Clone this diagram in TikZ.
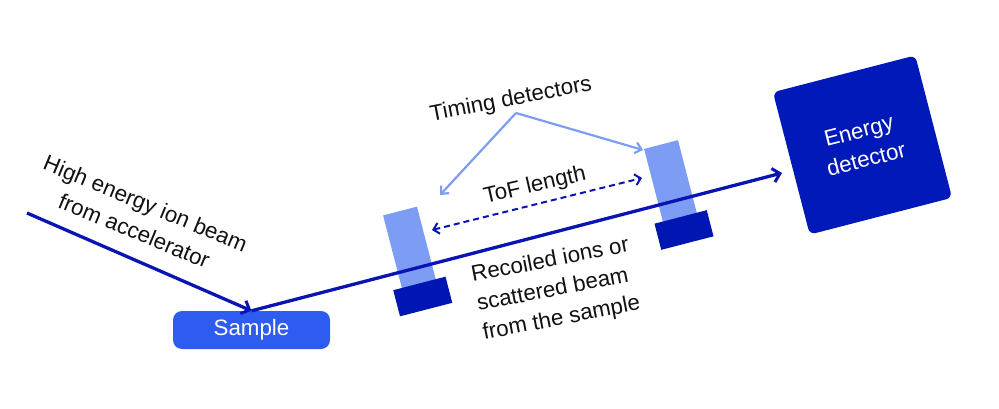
\documentclass[tikz,border=0pt]{standalone}
\usepackage{fontspec}
\setmainfont{Liberation Sans}
\usetikzlibrary{arrows.meta}
\definecolor{beamblue}{HTML}{0A14B4}
\definecolor{darkbox}{HTML}{0016B2}
\definecolor{edetblue}{HTML}{0019B8}
\definecolor{sampleblue}{HTML}{2E5CF0}
\definecolor{lightblue}{HTML}{7D9DF5}
\definecolor{textgray}{HTML}{111111}
\tikzset{
  beam/.style={draw=beamblue, line width=3.3pt, -{Straight Barb[length=7pt,width=14pt,line width=3pt]}},
  tofarrow/.style={draw=beamblue, line width=2pt, dash pattern=on 6pt off 4pt, {Straight Barb[length=5.5pt,width=11pt]}-{Straight Barb[length=5.5pt,width=11pt]}},
  pointer/.style={draw=lightblue, line width=2.2pt, -{Straight Barb[length=6pt,width=11pt]}},
  samplebox/.style={fill=sampleblue, text=white, rounded corners=9pt, minimum width=157pt, minimum height=38pt, inner sep=0pt},
  edetbox/.style={fill=edetblue, text=white, rounded corners=6pt, minimum size=147pt, align=center, inner sep=0pt},
  tlight/.style={fill=lightblue, minimum width=35pt, minimum height=90pt, inner sep=0pt},
  tdark/.style={fill=darkbox, minimum width=54pt, minimum height=27pt, inner sep=0pt},
  lbl/.style={text=textgray, inner sep=0pt}
}
\begin{document}
\begin{tikzpicture}[x=1pt,y=-1pt, font=\fontsize{22.3}{29.5}\selectfont]
\useasboundingbox (0,0) rectangle (999,409);
% detectors
\node[tlight, rotate=14.5] (t1) at (411.3,254.6) {};
\node[tlight, rotate=14.5] (t2) at (672.3,188.1) {};
\node[tdark, rotate=14.5] (d1) at (422.75,296.5) {};
\node[tdark, rotate=14.5] (d2) at (684,230) {};
\node[edetbox, rotate=14.5] (edet) at (862.5,145) {Energy\\detector};
\node[samplebox] (sample) at (251.5,330) {Sample};
% beams
\coordinate (beamstart) at (27,213);
\coordinate (beamend) at (782,173);
\draw[beam] (beamstart) -- (sample.north);
\draw[beam] (sample.north) -- (beamend);
% ToF
\coordinate (tofL) at (432,230);
\coordinate (tofR) at (642,178);
\draw[tofarrow] (tofL) -- (tofR);
\node[lbl, rotate=13] (toflbl) at (535,186) {ToF length};
% timing detectors
\node[lbl, rotate=11] (tdlbl) at (511,100) {Timing detectors};
\coordinate (tdroot) at (516,113);
\coordinate (tdtipL) at (440,195);
\coordinate (tdtipR) at (643,150);
\draw[pointer] (tdroot) -- (tdtipL);
\draw[pointer] (tdroot) -- (tdtipR);
% labels
\node[lbl, rotate=-22.5, align=center] (inlbl) at (140,217) {High energy ion beam\\from accelerator};
\node[lbl, rotate=11, align=left] (outlbl) at (556,290) {Recoiled ions or\\scattered beam\\from the sample};
\end{tikzpicture}
\end{document}
